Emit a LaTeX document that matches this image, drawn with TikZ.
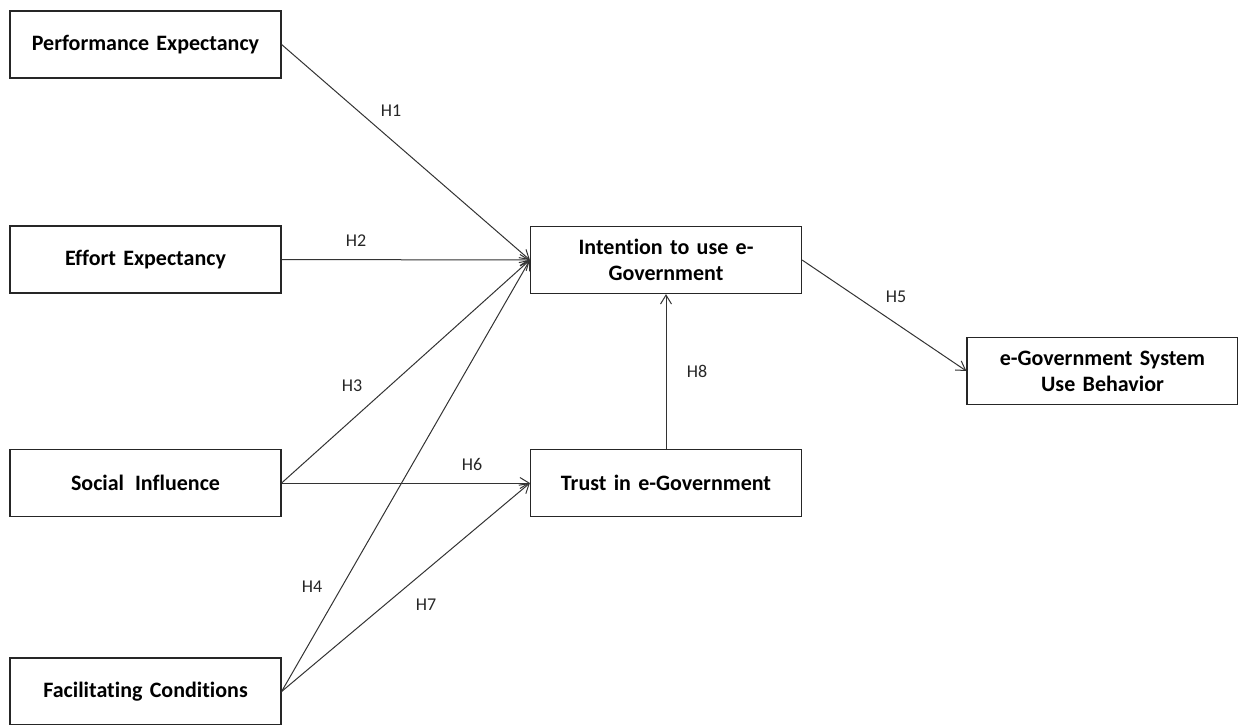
\documentclass[tikz,border=0pt]{standalone}
\usepackage{fontspec}
\setmainfont{Carlito}[Ligatures=NoCommon]
\usetikzlibrary{arrows.meta}
\begin{document}
\begin{tikzpicture}[x=1pt,y=-1pt,
  box/.style={draw=black!85,line width=1.2pt,minimum width=271pt,minimum height=67pt,inner sep=0pt,
    align=center,font=\fontsize{22}{26}\selectfont\bfseries,text width=265pt},
  arr/.style={draw=black!80,line width=1pt,-{Straight Barb[length=9pt,width=11pt,line width=1pt]}},
  lab/.style={font=\fontsize{18}{21}\selectfont,text=black!85,inner sep=0pt}]
\useasboundingbox (0,0) rectangle (1238,724);
\node[box] (pe) at (145.5,44.5) {Performance Expectancy};
\node[box] (ee) at (145.5,259.5) {Effort Expectancy};
\node[box] (si) at (145.5,483) {Social\, Influence};
\node[box] (fc) at (145.5,691.5) {Facilitating Conditions};
\node[box] (it) at (666,260) {Intention to use e-\\Government};
\node[box] (tr) at (666,483) {Trust in e-Government};
\node[box] (eb) at (1102.5,371) {e-Government System\\Use Behavior};
\coordinate (itin) at (it.west);
\draw[arr] (pe.east) -- (itin);
\draw[arr] (ee.east) -- (itin);
\draw[arr] (si.east) -- (itin);
\draw[arr] (fc.east) -- (itin);
\draw[arr] (si.east) -- (tr.west);
\draw[arr] (fc.east) -- (tr.west);
\draw[arr] (it.east) -- (eb.west);
\draw[arr] (tr.north) -- (it.south);
\node[lab] (h1) at (391,111) {H1};
\node[lab] (h2) at (356,241) {H2};
\node[lab] (h3) at (352,386) {H3};
\node[lab] (h6) at (472,464) {H6};
\node[lab] (h4) at (312,587) {H4};
\node[lab] (h7) at (426,605) {H7};
\node[lab] (h5) at (896,297) {H5};
\node[lab] (h8) at (697,371) {H8};
\end{tikzpicture}
\end{document}
